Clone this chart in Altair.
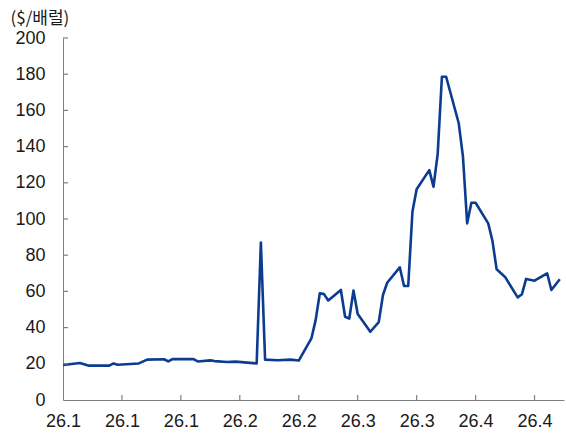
import altair as alt
import pandas as pd

dates = [
    "2026-01-01", "2026-01-05", "2026-01-07", "2026-01-12", "2026-01-13", "2026-01-14",
    "2026-01-19", "2026-01-21", "2026-01-25", "2026-01-26", "2026-01-27", "2026-02-01",
    "2026-02-02", "2026-02-05", "2026-02-06", "2026-02-09", "2026-02-11", "2026-02-16",
    "2026-02-17", "2026-02-18", "2026-02-21", "2026-02-24", "2026-02-26", "2026-03-01",
    "2026-03-02", "2026-03-03", "2026-03-04", "2026-03-05", "2026-03-08", "2026-03-09",
    "2026-03-10", "2026-03-11", "2026-03-12", "2026-03-15", "2026-03-17", "2026-03-18",
    "2026-03-19", "2026-03-22", "2026-03-23", "2026-03-24", "2026-03-25", "2026-03-26",
    "2026-03-29", "2026-03-30", "2026-03-31", "2026-04-01", "2026-04-02", "2026-04-05",
    "2026-04-06", "2026-04-07", "2026-04-08", "2026-04-09", "2026-04-12", "2026-04-13",
    "2026-04-14", "2026-04-16", "2026-04-19", "2026-04-20", "2026-04-21", "2026-04-23",
    "2026-04-26", "2026-04-27", "2026-04-29",
]
prices = [
    19.3, 20.4, 19.0, 19.0, 20.2, 19.5,
    20.2, 22.3, 22.5, 21.3, 22.6, 22.6,
    21.3, 21.9, 21.5, 21.0, 21.2, 20.2,
    87.0, 22.3, 22.0, 22.3, 21.8, 34.0,
    44.0, 59.0, 58.5, 55.0, 60.8, 46.0,
    45.0, 60.5, 47.5, 37.7, 43.0, 58.0,
    64.8, 73.3, 63.0, 63.0, 104.0, 116.4,
    127.0, 117.8, 136.0, 178.6, 178.6, 152.9,
    134.4, 97.6, 109.0, 109.0, 97.6, 88.0,
    72.2, 68.0, 56.7, 58.4, 66.9, 65.9,
    70.0, 60.8, 66.7,
]
tick_labels = ["26.1", "26.1", "26.1", "26.2", "26.2", "26.3", "26.3", "26.4", "26.4"]
tick_step_days = 14
y_ticks = [0, 20, 40, 60, 80, 100, 120, 140, 160, 180, 200]
unit_label = "($/배럴)"

start = pd.Timestamp("2026-01-01")
df = pd.DataFrame({"date": pd.to_datetime(dates), "price": prices})
df["day"] = (df["date"] - start).dt.days

tick_days = [i * tick_step_days for i in range(len(tick_labels))]
xt_df = pd.DataFrame({"day": tick_days[1:]})
yt_df = pd.DataFrame({"price": y_ticks[1:]})

label_expr = "[" + ",".join("'%s'" % t for t in tick_labels) + "][round(datum.value/%d)]" % tick_step_days

W, H = 501, 362
AXIS_GRAY = "#7f7f7f"
TEXT = "#1a1a1a"

x_scale = alt.Scale(domain=[0, 119], nice=False, zero=False)
y_scale = alt.Scale(domain=[0, 200], nice=False)

x_axis = alt.Axis(
    values=tick_days, labelExpr=label_expr, title=None, grid=False,
    ticks=False, domainColor=AXIS_GRAY, domainWidth=1,
    labelFont="Liberation Sans", labelFontSize=18, labelColor=TEXT,
    labelPadding=12, labelFlush=False, labelOverlap=False)
y_axis = alt.Axis(
    values=y_ticks, grid=False, ticks=False, domainColor=AXIS_GRAY, domainWidth=1,
    labelFont="Liberation Sans", labelFontSize=18, labelColor=TEXT,
    labelPadding=18, labelOverlap=False, labelFlush=False,
    title=unit_label, titleAngle=0, titleX=-53, titleY=-20,
    titleAlign="left", titleBaseline="middle", titleFont="Noto Sans CJK KR",
    titleFontSize=17, titleFontWeight="normal", titleColor=TEXT)

line = alt.Chart(df).mark_line(
    color="#0b3c8f", strokeWidth=2.6, strokeJoin="round"
).encode(
    x=alt.X("day:Q", scale=x_scale, axis=x_axis),
    y=alt.Y("price:Q", scale=y_scale, axis=y_axis),
)

xticks = alt.Chart(xt_df).mark_rule(color=AXIS_GRAY, strokeWidth=1.2).encode(
    x=alt.X("day:Q", scale=x_scale, axis=x_axis),
    y=alt.value(H), y2=alt.value(H - 5),
)
yticks = alt.Chart(yt_df).mark_rule(color=AXIS_GRAY, strokeWidth=1.2).encode(
    y=alt.Y("price:Q", scale=y_scale, axis=y_axis),
    x=alt.value(0), x2=alt.value(5),
)

chart = alt.layer(line, xticks, yticks).properties(
    width=W, height=H,
    autosize=alt.AutoSizeParams(type="none"),
    padding={"left": 63, "top": 38, "right": 2, "bottom": 37},
    background="white",
).configure_view(stroke=None)

chart.save("out.html", embed_options={"renderer": "svg", "actions": False})
